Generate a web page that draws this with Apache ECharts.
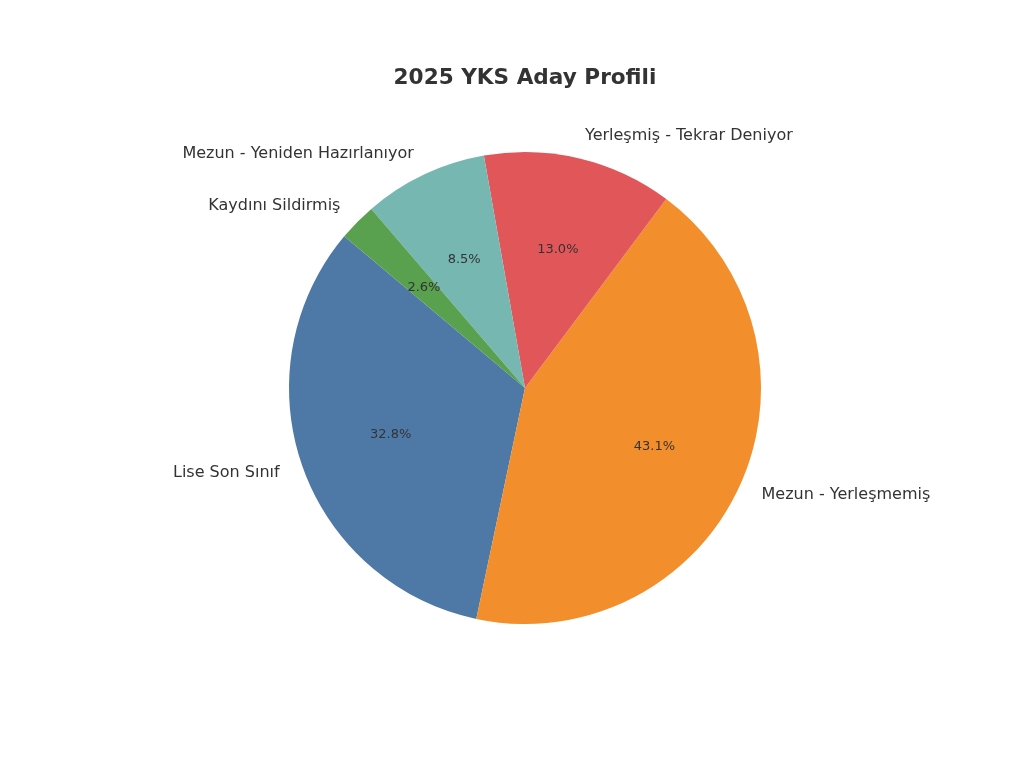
<!DOCTYPE html>
<html>
<head>
<meta charset="utf-8">
<script src="https://cdn.jsdelivr.net/npm/echarts@6/dist/echarts.min.js"></script>
<style>
  html, body { margin: 0; padding: 0; background: #ffffff; }
  #chart { width: 1024px; height: 768px; }
</style>
</head>
<body>
<div id="chart"></div>
<script>
// Candidate groups and their shares (%), listed counter-clockwise from the start angle
const categories = ['Lise Son Sınıf', 'Mezun - Yerleşmemiş', 'Yerleşmiş - Tekrar Deniyor', 'Mezun - Yeniden Hazırlanıyor', 'Kaydını Sildirmiş'];
const shares = [32.8, 43.1, 13.0, 8.5, 2.6];
const colors = ['#4e79a7', '#f28e2b', '#e15759', '#76b7b2', '#59a14f'];
const titleText = '2025 YKS Aday Profili';

const FONT = '"DejaVu Sans", "Liberation Sans", sans-serif';
const CX = 525, CY = 388, R = 236;

const pieData = categories.map((name, i) => ({
  name: name,
  value: shares[i],
  itemStyle: { color: colors[i] }
}));

const chart = echarts.init(document.getElementById('chart'), null, { renderer: 'canvas' });
chart.setOption({
  backgroundColor: '#ffffff',
  animation: false,
  textStyle: { fontFamily: FONT },
  title: {
    text: titleText,
    left: CX - 5,
    top: 62,
    textAlign: 'center',
    textStyle: { fontFamily: FONT, fontSize: 21.6, fontWeight: 'bold', color: '#333333' }
  },
  series: [
    {
      // slices with category names placed just outside the rim
      type: 'pie',
      center: [CX, CY],
      radius: [0, R],
      startAngle: 140,
      clockwise: false,
      avoidLabelOverlap: false,
      silent: true,
      data: pieData,
      itemStyle: { borderWidth: 0 },
      label: {
        show: true,
        position: 'outside',
        formatter: '{b}',
        fontFamily: FONT,
        fontSize: 16,
        color: '#333333',
        distanceToLabelLine: 0
      },
      labelLine: { show: false, length: R * 0.1, length2: 0 },
      emphasis: { disabled: true }
    },
    {
      // transparent ring whose midpoint sits near 0.6 R, carrying the percentages
      type: 'pie',
      center: [CX, CY],
      radius: [R * 0.2 - 5, R],
      startAngle: 140,
      clockwise: false,
      avoidLabelOverlap: false,
      silent: true,
      data: pieData.map(d => ({ name: d.name, value: d.value })),
      itemStyle: { color: 'rgba(0,0,0,0)', borderWidth: 0 },
      label: {
        show: true,
        position: 'inside',
        formatter: p => p.value.toFixed(1) + '%',
        fontFamily: FONT,
        fontSize: 13,
        color: '#333333'
      },
      labelLine: { show: false },
      emphasis: { disabled: true }
    }
  ]
});
</script>
</body>
</html>
